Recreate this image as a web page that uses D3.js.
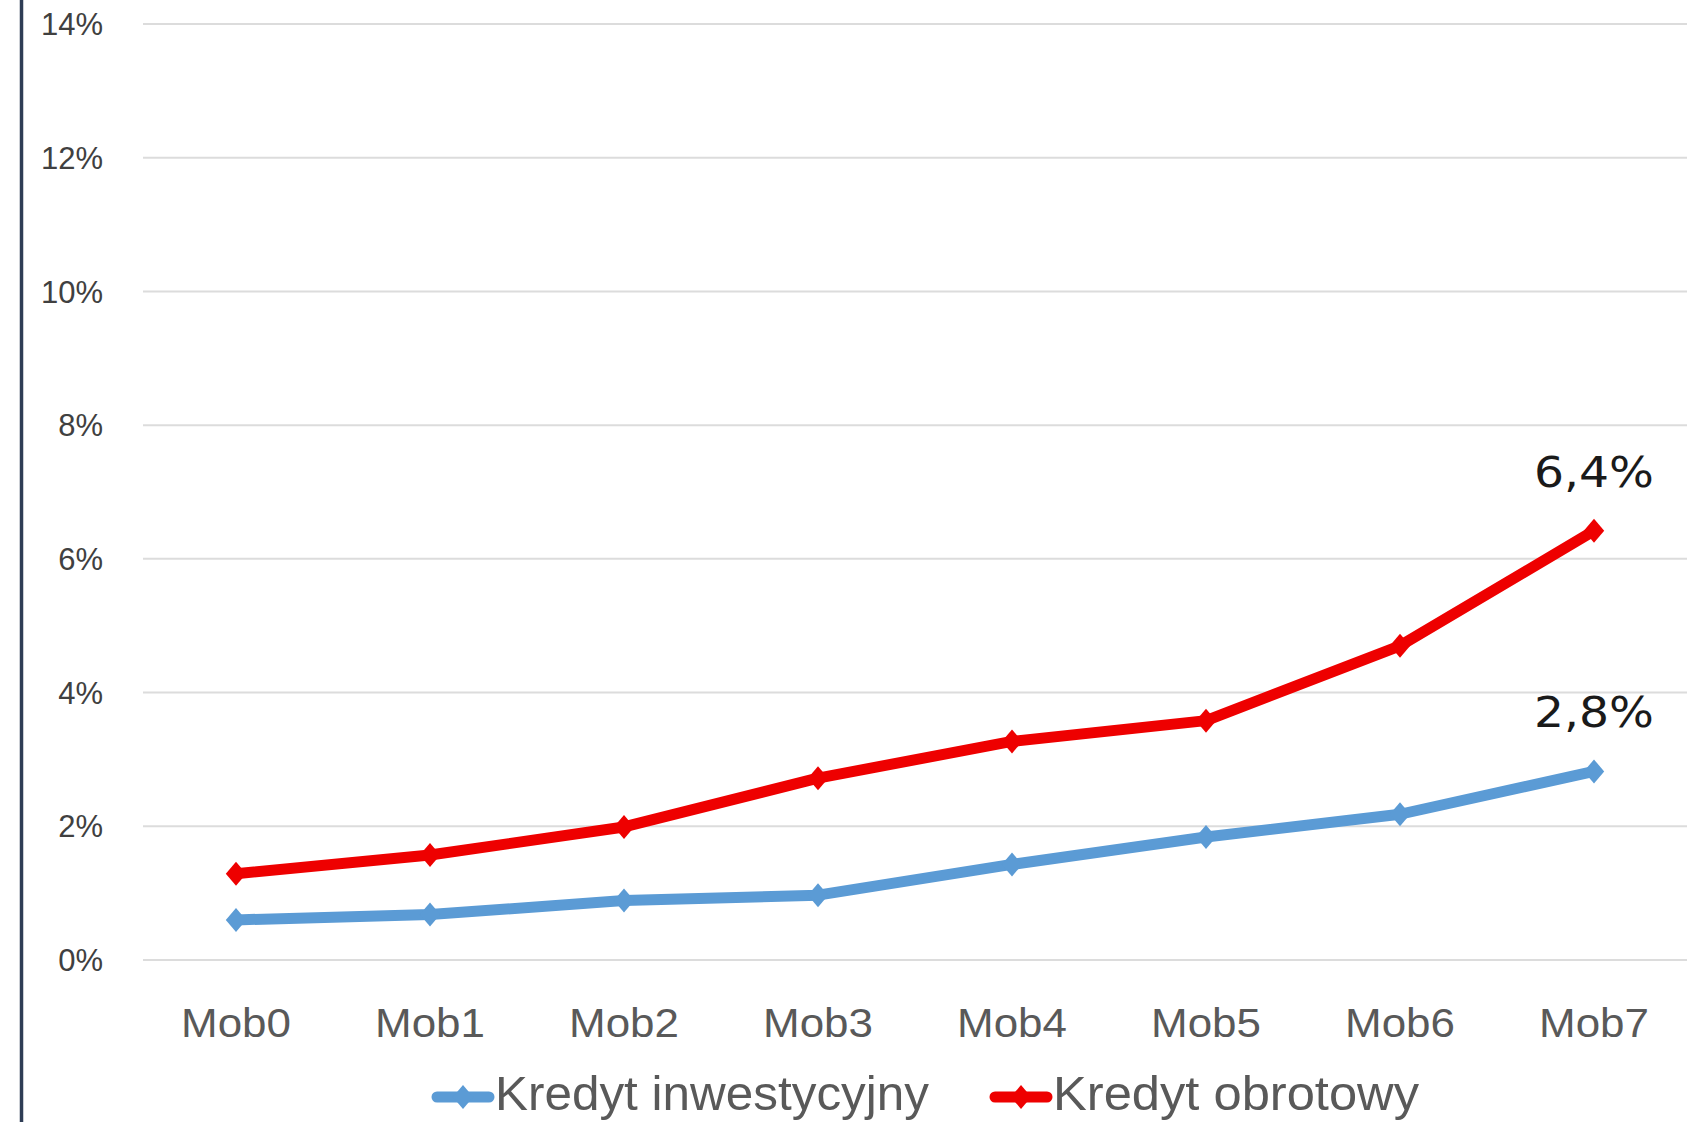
<!DOCTYPE html>
<html>
<head>
<meta charset="utf-8">
<script src="https://cdn.jsdelivr.net/npm/d3@7"></script>
<style>
html,body{margin:0;padding:0;background:#fff;}
svg{display:block;}
</style>
</head>
<body>
<svg id="chart" width="1699" height="1122"></svg>
<script>
const categories = ["Mob0","Mob1","Mob2","Mob3","Mob4","Mob5","Mob6","Mob7"];
const inwestycyjny = [0.60, 0.68, 0.89, 0.97, 1.43, 1.84, 2.18, 2.82];
const obrotowy = [1.29, 1.57, 1.99, 2.72, 3.27, 3.58, 4.70, 6.42];
const yTicks = [0, 2, 4, 6, 8, 10, 12, 14];
const seriesNames = ["Kredyt inwestycyjny", "Kredyt obrotowy"];
const seriesColors = ["#5B9BD5", "#EE0000"];
const endLabels = ["2,8%", "6,4%"];

const svg = d3.select("#chart");
const W = 1699, H = 1122;
svg.append("rect").attr("width", W).attr("height", H).attr("fill", "#fff");

const plotLeft = 143, plotRight = 1687;
const x = d3.scalePoint().domain(categories).range([236, 1594]).padding(0);
const y = d3.scaleLinear().domain([0, 14]).range([960, 24]);

// left border
svg.append("line").attr("x1", 21.5).attr("x2", 21.5).attr("y1", 0).attr("y2", H)
  .attr("stroke", "#2f3d55").attr("stroke-width", 3.5);

// gridlines
svg.append("g").selectAll("line").data(yTicks).join("line")
  .attr("x1", plotLeft).attr("x2", plotRight)
  .attr("y1", d => y(d)).attr("y2", d => y(d))
  .attr("stroke", "#dcdcdc").attr("stroke-width", 2);

// y tick labels
svg.append("g").selectAll("text").data(yTicks).join("text")
  .attr("x", 103).attr("y", d => y(d)).attr("dy", "0.36em")
  .attr("text-anchor", "end")
  .attr("font-family", "Liberation Sans, Arial, sans-serif")
  .attr("font-size", 31).attr("fill", "#404040")
  .text(d => d + "%");

// x labels
svg.append("g").selectAll("text").data(categories).join("text")
  .attr("x", d => x(d)).attr("y", 1037)
  .attr("text-anchor", "middle")
  .attr("font-family", "Liberation Sans, Arial, sans-serif")
  .attr("font-size", 41).attr("fill", "#595959")
  .attr("textLength", 110).attr("lengthAdjust", "spacingAndGlyphs")
  .text(d => d);

const series = [inwestycyjny, obrotowy];
const line = d3.line().x((d, i) => x(categories[i])).y(d => y(d)).curve(d3.curveLinear);
const diamond = (cx, cy, r) => `M${cx},${cy - r}L${cx + r * 0.85},${cy}L${cx},${cy + r}L${cx - r * 0.85},${cy}Z`;

series.forEach((vals, si) => {
  const g = svg.append("g");
  g.append("path").datum(vals).attr("d", line)
    .attr("fill", "none").attr("stroke", seriesColors[si])
    .attr("stroke-width", 11).attr("stroke-linejoin", "round").attr("stroke-linecap", "round");
  g.selectAll("path.m").data(vals).join("path").attr("class", "m")
    .attr("d", (d, i) => diamond(x(categories[i]), y(d), 12))
    .attr("fill", seriesColors[si]);
  // end label
  const last = vals.length - 1;
  g.append("text")
    .attr("x", x(categories[last])).attr("y", y(vals[last]) - 44)
    .attr("text-anchor", "middle")
    .attr("font-family", "DejaVu Sans, Liberation Sans, sans-serif")
    .attr("font-size", 43).attr("fill", "#1a1a1a")
    .attr("textLength", 120).attr("lengthAdjust", "spacingAndGlyphs")
    .text(endLabels[si]);
});

// legend
const legendItems = [
  {name: seriesNames[0], color: seriesColors[0], x0: 432, textLen: 434},
  {name: seriesNames[1], color: seriesColors[1], x0: 990, textLen: 366}
];
const ly = 1097;
legendItems.forEach(it => {
  const g = svg.append("g");
  g.append("line").attr("x1", it.x0 + 5).attr("x2", it.x0 + 57).attr("y1", ly).attr("y2", ly)
    .attr("stroke", it.color).attr("stroke-width", 11).attr("stroke-linecap", "round");
  g.append("path").attr("d", diamond(it.x0 + 31, ly, 12)).attr("fill", it.color);
  g.append("text").attr("x", it.x0 + 63).attr("y", 1110)
    .attr("font-family", "Liberation Sans, Arial, sans-serif")
    .attr("font-size", 48).attr("fill", "#595959")
    .attr("textLength", it.textLen).attr("lengthAdjust", "spacingAndGlyphs")
    .text(it.name);
});
</script>
</body>
</html>
